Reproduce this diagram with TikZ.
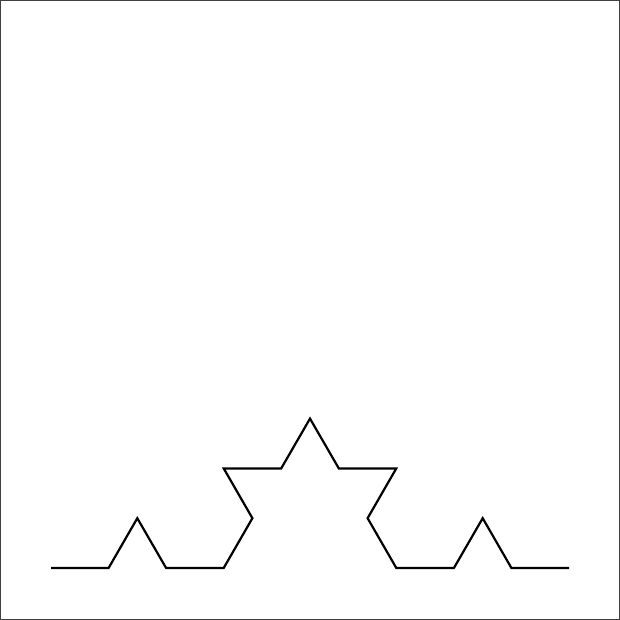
\documentclass[tikz,border=0pt]{standalone}
\begin{document}
\begin{tikzpicture}[x=1pt,y=-1pt,
  frame/.style={draw=black!75,line width=1pt},
  koch/.style={draw=black,line width=2.2pt,line join=miter}]
\useasboundingbox (0,0) rectangle (620,620);
\draw[frame] (0.5,0.5) rectangle (619.5,619.5);
\draw[koch] (51,568) -- (108.6,568) -- (137.3,518.2) -- (166.1,568) -- (223.7,568)
  -- (252.4,518.2) -- (223.7,468.4) -- (281.2,468.4) -- (310,418.6)
  -- (338.8,468.4) -- (396.3,468.4) -- (367.6,518.2) -- (396.3,568)
  -- (453.9,568) -- (482.7,518.2) -- (511.4,568) -- (569,568);
\end{tikzpicture}
\end{document}
